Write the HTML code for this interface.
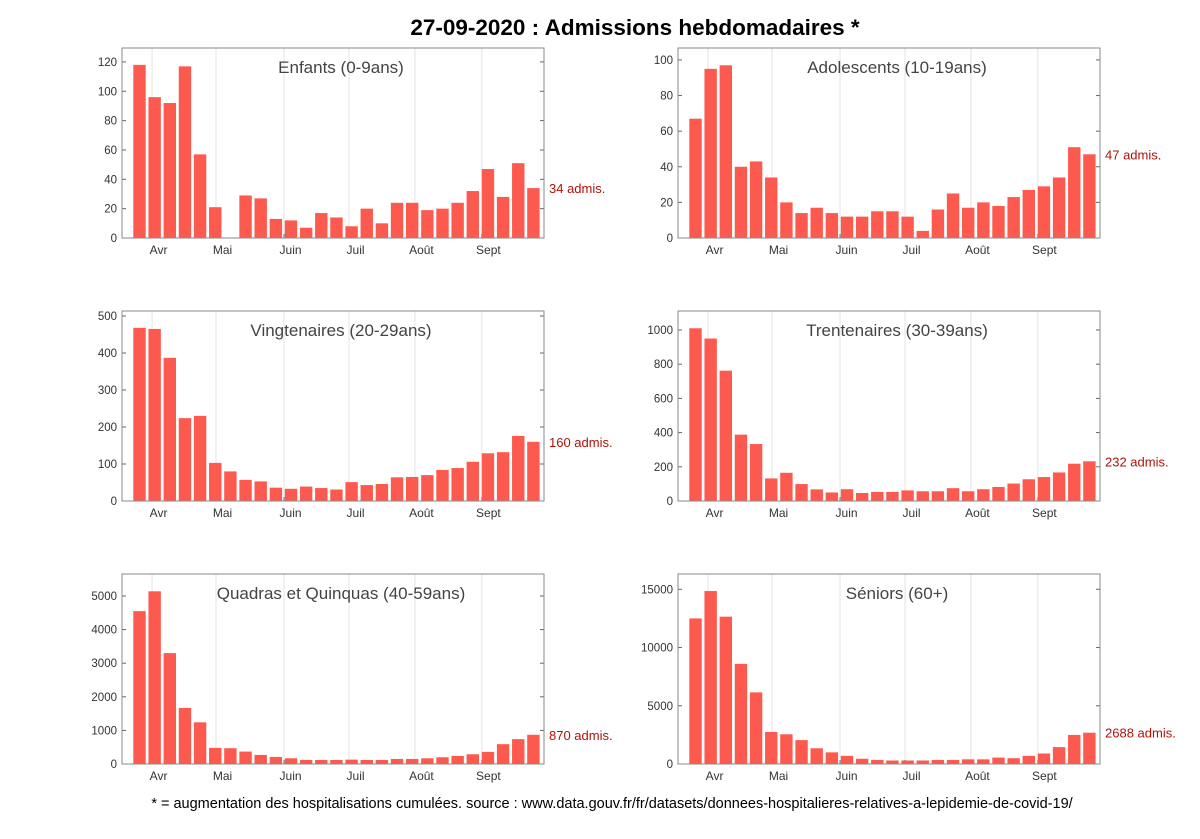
<!DOCTYPE html>
<html><head><meta charset="utf-8">
<style>
body{margin:0;background:#fff;width:1200px;height:834px;overflow:hidden;font-family:"Liberation Sans",Arial,sans-serif;}
svg text{font-family:"Liberation Sans",Arial,sans-serif;}
</style></head>
<body>
<svg id="chart" width="1200" height="834">
<text x="635" y="35" text-anchor="middle" font-size="22.5" font-weight="bold" fill="#000">27-09-2020 : Admissions hebdomadaires *</text>
<text x="612" y="808" text-anchor="middle" font-size="14.5" fill="#000">* = augmentation des hospitalisations cumulées. source : www.data.gouv.fr/fr/datasets/donnees-hospitalieres-relatives-a-lepidemie-de-covid-19/</text>
</svg>
<script>
const monthLabels = ["Avr","Mai","Juin","Juil","Août","Sept"];
const monthWeekPos = [0.83,5.05,9.54,13.83,18.18,22.6];
const panelTitles = ["Enfants (0-9ans)","Adolescents (10-19ans)","Vingtenaires (20-29ans)","Trentenaires (30-39ans)","Quadras et Quinquas (40-59ans)","Séniors (60+)"];
const enfants = [118,96,92,117,57,21,0,29,27,13,12,7,17,14,8,20,10,24,24,19,20,24,32,47,28,51,34];
const adolescents = [67,95,97,40,43,34,20,14,17,14,12,12,15,15,12,4,16,25,17,20,18,23,27,29,34,51,47];
const vingtenaires = [468,465,387,224,230,103,80,57,53,36,33,39,35,31,51,43,46,64,65,70,84,89,106,129,132,176,160];
const trentenaires = [1010,950,762,388,333,132,165,99,68,50,69,47,53,53,62,57,57,75,57,69,82,102,127,140,167,218,232];
const quadras = [4550,5140,3300,1670,1240,480,470,370,270,210,170,120,120,120,130,120,120,150,150,170,200,240,290,360,590,740,870];
const seniors = [12500,14850,12650,8600,6150,2750,2550,2050,1350,1000,700,450,350,300,300,300,350,350,400,400,550,500,700,900,1450,2500,2688];
const yMaxes = [129.5,106.7,513.5,1111,5655,16314];
const yTicks = [[0,20,40,60,80,100,120],[0,20,40,60,80,100],[0,100,200,300,400,500],[0,200,400,600,800,1000],[0,1000,2000,3000,4000,5000],[0,5000,10000,15000]];
const series = [enfants,adolescents,vingtenaires,trentenaires,quadras,seniors];

const NS="http://www.w3.org/2000/svg";
const svg=document.getElementById('chart');
function mk(tag,attrs,parent){const e=document.createElementNS(NS,tag);for(const k in attrs)e.setAttribute(k,attrs[k]);(parent||svg).appendChild(e);return e;}
const lefts=[122,678], tops=[48,311,574], H=190, W=422, step=15.15;
series.forEach((vals,p)=>{
  const x0=lefts[p%2], y0=tops[Math.floor(p/2)], yb=y0+H, ymax=yMaxes[p];
  const g=mk('g',{});
  
  
  const xs=i=>x0+17.5+i*step;
  const ys=v=>yb-v/ymax*H;
  monthWeekPos.forEach((m,k)=>{
    const gx=xs(m);
    const gl=mk('line',{x1:gx,x2:gx,y1:y0,y2:yb,stroke:'#e3e3e3','stroke-width':1},g);
    
    
    const t=mk('text',{x:gx+6.5,y:yb+16,'text-anchor':'middle','font-size':12,fill:'#333'},g);
    t.textContent=monthLabels[k];
    
    
    const tk=mk('line',{x1:gx,x2:gx,y1:yb,y2:yb-4,stroke:'#666'},g);
    
    
  });
  vals.forEach((v,i)=>{
    const r=mk('rect',{x:xs(i)-6.2,y:ys(v),width:12.4,height:Math.max(0,yb-ys(v)),fill:'#fd5a4f'},g);
    
    
  });
  yTicks[p].forEach(v=>{
    const yy=ys(v);
    const t=mk('text',{x:x0-5,y:yy+4,'text-anchor':'end','font-size':11.5,fill:'#333'},g);
    t.textContent=v;
    
    
    const a=mk('line',{x1:x0,x2:x0+4,y1:yy,y2:yy,stroke:'#666'},g);
    
    
    const b=mk('line',{x1:x0+W-4,x2:x0+W,y1:yy,y2:yy,stroke:'#666'},g);
    
    
  });
  const box=mk('rect',{x:x0,y:y0,width:W,height:H,fill:'none',stroke:'#888','stroke-width':1},g);
  
  
  const tt=mk('text',{x:x0+W/2+8,y:y0+25,'text-anchor':'middle','font-size':17,fill:'#444'},g);
  tt.textContent=panelTitles[p];
  
  
  const last=vals[vals.length-1];
  const lb=mk('text',{x:x0+W+5,y:ys(last)+5,'font-size':13,fill:'#b0120a'},g);
  lb.textContent=last+' admis.';
  
  
});
</script>
</body></html>
